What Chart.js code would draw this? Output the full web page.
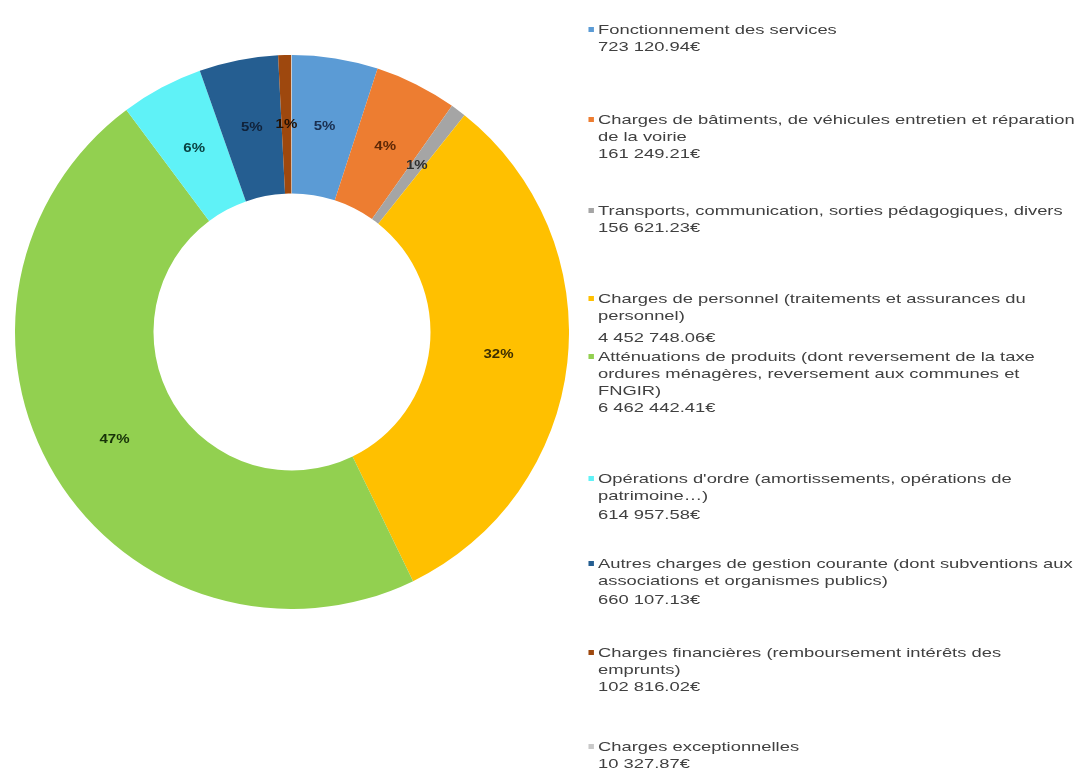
<!DOCTYPE html>
<html>
<head>
<meta charset="utf-8">
<script src="https://cdn.jsdelivr.net/npm/chart.js@4.4.1/dist/chart.umd.min.js"></script>
<style>
  html, body { margin: 0; padding: 0; background: #ffffff; width: 1085px; height: 771px; overflow: hidden; }
  #chartBox { position: absolute; left: 15px; top: 55px; width: 554px; height: 554px; }
  #legend { position: absolute; left: 0; top: 0; width: 1085px; height: 771px; pointer-events: none;
            font-family: "Liberation Sans", Arial, sans-serif; font-size: 13.5px; color: #404040; }
  .entry { position: absolute; left: 598px; line-height: 17px; white-space: nowrap;
           transform-origin: 0 0; transform: scaleX(1.36); }
  .mark { position: absolute; left: -7px; top: 6px; width: 4px; height: 5px; }
</style>
</head>
<body>
<div id="chartBox"><canvas id="c"></canvas></div>
<div id="legend"></div>
<script>
// ---- data ----
const categories = [
  ["Fonctionnement des services"],
  ["Charges de bâtiments, de véhicules entretien et réparation", "de la voirie"],
  ["Transports, communication, sorties pédagogiques, divers"],
  ["Charges de personnel (traitements et assurances du", "personnel)"],
  ["Atténuations de produits (dont reversement de la taxe", "ordures ménagères, reversement aux communes et", "FNGIR)"],
  ["Opérations d'ordre (amortissements, opérations de", "patrimoine…)"],
  ["Autres charges de gestion courante (dont subventions aux", "associations et organismes publics)"],
  ["Charges financières (remboursement intérêts des", "emprunts)"],
  ["Charges exceptionnelles"]
];
const amountLabels = ["723 120.94€", "161 249.21€", "156 621.23€", "4 452 748.06€", "6 462 442.41€",
                      "614 957.58€", "660 107.13€", "102 816.02€", "10 327.87€"];
const sliceShares = [5.0, 4.8, 0.9, 32.1, 47.0, 4.8, 4.6, 0.75, 0.05];
const percentLabels = ["5%", "4%", "1%", "32%", "47%", "6%", "5%", "1%", ""];

// ---- styles ----
const sliceColors = ["#5b9bd5", "#ed7d31", "#a5a5a5", "#ffc000", "#92d050", "#5ff2f7", "#255e91", "#9e480e", "#c9c9c9"];
const labelColors = ["#1a2f50", "#5e2806", "#2e2e2e", "#3d2e00", "#173208", "#0a4242", "#10223a", "#221104", "#333"];
const legendTops = [21, 111, 202, 290, 348, 470, 555, 644, 738];
const amountExtraGap = [0, 0, 0, 5, 0, 2, 2, 0, 0];

// HTML legend
const legend = document.getElementById('legend');
categories.forEach((lines, i) => {
  const e = document.createElement('div');
  e.className = 'entry';
  e.style.top = legendTops[i] + 'px';
  const m = document.createElement('div');
  m.className = 'mark';
  m.style.background = sliceColors[i];
  e.appendChild(m);
  lines.forEach(t => {
    const l = document.createElement('div');
    l.textContent = t;
    e.appendChild(l);
  });
  const a = document.createElement('div');
  a.textContent = amountLabels[i];
  a.style.marginTop = amountExtraGap[i] + 'px';
  e.appendChild(a);
  legend.appendChild(e);
});

const pctPlugin = {
  id: 'pct',
  afterDatasetsDraw(chart) {
    const ctx = chart.ctx;
    const meta = chart.getDatasetMeta(0);
    ctx.save();
    ctx.font = 'bold 12px "Liberation Sans", Arial, sans-serif';
    ctx.textAlign = 'center';
    ctx.textBaseline = 'middle';
    meta.data.forEach((arc, i) => {
      if (!percentLabels[i]) return;
      const p = arc.getCenterPoint();
      ctx.save();
      ctx.translate(p.x, p.y);
      ctx.scale(1.25, 1);
      ctx.fillStyle = labelColors[i];
      ctx.fillText(percentLabels[i], 0, 0);
      ctx.restore();
    });
    ctx.restore();
  }
};

new Chart(document.getElementById('c'), {
  type: 'doughnut',
  data: {
    labels: categories.map(c => c.join(' ')),
    datasets: [{
      data: sliceShares,
      backgroundColor: sliceColors,
      borderWidth: 0
    }]
  },
  options: {
    responsive: true,
    maintainAspectRatio: false,
    animation: false,
    cutout: '50%',
    rotation: 0,
    layout: { padding: 0 },
    plugins: { legend: { display: false }, tooltip: { enabled: false } }
  },
  plugins: [pctPlugin]
});
</script>
</body>
</html>
